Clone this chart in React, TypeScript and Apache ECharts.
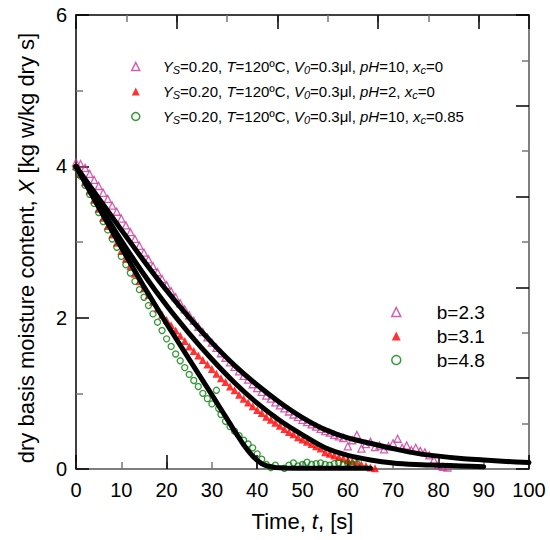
import React, { useEffect, useRef } from 'react';
import * as echarts from 'echarts';

const FONT = 'Liberation Sans, Arial, Helvetica, sans-serif';

// Data series: pH=10, xc=0 (magenta open triangles)
const magentaT = [0,1,2,3,4,5,6,7,8,9,10,11,12,13,14,15,16,17,18,19,20,21,22,23,24,25,26,27,28,29,30,31,32,33,34,35,36,37,38,39,40,41,42,43,44,45,46,47,48,49,50,51,52,53,54,55,56,57,58,59,60,61,62,63,64,65,66,67,68,69,70,71,72,73,74,75,76,77,78,79,80,81,82];
const magentaX = [4.05,4.03,3.98,3.90,3.82,3.74,3.65,3.57,3.48,3.40,3.31,3.22,3.13,3.04,2.95,2.86,2.77,2.68,2.60,2.51,2.43,2.35,2.27,2.19,2.11,2.03,1.96,1.88,1.81,1.74,1.67,1.60,1.53,1.47,1.41,1.35,1.29,1.23,1.18,1.12,1.07,1.02,0.97,0.93,0.88,0.84,0.80,0.76,0.72,0.69,0.65,0.62,0.59,0.56,0.53,0.50,0.48,0.45,0.43,0.41,0.30,0.38,0.45,0.27,0.33,0.36,0.29,0.31,0.26,0.30,0.34,0.40,0.28,0.31,0.25,0.28,0.24,0.22,0.18,0.12,0.05,0.03,0.02];

// Data series: pH=2, xc=0 (red filled triangles)
const redT = [0,1,2,3,4,5,6,7,8,9,10,11,12,13,14,15,16,17,18,19,20,21,22,23,24,25,26,27,28,29,30,31,32,33,34,35,36,37,38,39,40,41,42,43,44,45,46,47,48,49,50,51,52,53,54,55,56,57,58,59,60,61,62,63,64,65,66];
const redX = [4.00,3.90,3.79,3.68,3.56,3.44,3.32,3.21,3.10,2.99,2.88,2.78,2.68,2.58,2.48,2.39,2.30,2.21,2.12,2.04,1.97,1.90,1.83,1.76,1.69,1.62,1.56,1.50,1.44,1.38,1.32,1.26,1.20,1.15,1.09,1.04,0.98,0.93,0.88,0.83,0.78,0.74,0.69,0.65,0.61,0.57,0.53,0.49,0.46,0.42,0.39,0.36,0.33,0.30,0.27,0.22,0.20,0.18,0.16,0.14,0.12,0.10,0.08,0.06,0.04,0.02,0.01];

// Data series: pH=10, xc=0.85 (green open circles)
const greenT = [0,1,2,3,4,5,6,7,8,9,10,11,12,13,14,15,16,17,18,19,20,21,22,23,24,25,26,27,28,29,30,31,31.5,32,33,34,35,36,37,38,39,40,41,42,43,44,46,47,48,49,50,51,52,53,54,55,56,57,58,59,60,61,62];
const greenX = [3.98,3.87,3.75,3.63,3.51,3.39,3.27,3.16,3.04,2.93,2.81,2.70,2.59,2.48,2.37,2.27,2.16,2.05,1.94,1.83,1.72,1.62,1.52,1.43,1.34,1.25,1.17,1.09,1.00,0.93,0.86,1.04,0.80,0.72,0.63,0.56,0.50,0.44,0.38,0.33,0.28,0.20,0.13,0.06,0.02,0.05,0.01,0.05,0.08,0.04,0.06,0.09,0.06,0.07,0.08,0.06,0.05,0.07,0.08,0.06,0.07,0.06,0.07];

// Model fits (black curves)
const fitUpperT = [0,5,10,15,20,25,30,35,40,45,50,55,60,65,70,75,80,85,90,95,100];
const fitUpperX = [4.00,3.58,3.16,2.75,2.36,2.00,1.67,1.37,1.11,0.88,0.68,0.52,0.41,0.34,0.27,0.21,0.17,0.14,0.12,0.10,0.085];
const fitMiddleT = [0,5,10,15,20,25,30,35,40,45,50,55,60,65,70,75,80,85,90];
const fitMiddleX = [4.00,3.50,3.02,2.57,2.16,1.79,1.45,1.14,0.87,0.64,0.45,0.28,0.18,0.12,0.08,0.06,0.05,0.04,0.03];
const fitLowerT = [0,5,10,15,20,25,30,32,34,35,36,37,38,39,40,41,42,43,44,46,48,50,55,60,65];
const fitLowerX = [4.00,3.46,2.93,2.41,1.92,1.45,0.98,0.79,0.60,0.50,0.41,0.32,0.24,0.17,0.115,0.07,0.045,0.03,0.02,0.013,0.01,0.01,0.01,0.01,0.01];

const bValues = ['b=2.3', 'b=3.1', 'b=4.8'];
const seriesNames = ['pH10', 'pH2', 'xc085'];
const legendLines = [
  '{i|Y}{s|S}{n|=0.20, }{i|T}{n|=120ºC, }{i|V}{s|0}{n|=0.3μl, }{i|pH}{n|=10, }{i|x}{s|c}{n|=0}',
  '{i|Y}{s|S}{n|=0.20, }{i|T}{n|=120ºC, }{i|V}{s|0}{n|=0.3μl, }{i|pH}{n|=2, }{i|x}{s|c}{n|=0}',
  '{i|Y}{s|S}{n|=0.20, }{i|T}{n|=120ºC, }{i|V}{s|0}{n|=0.3μl, }{i|pH}{n|=10, }{i|x}{s|c}{n|=0.85}',
];

const MAGENTA = '#cc3399';
const RED = '#ff0000';
const GREEN = '#008000';

const pairs = (t: number[], x: number[]) => t.map((v, i) => [v, x[i]]);

export default function App() {
  const ref = useRef<HTMLDivElement>(null);
  useEffect(() => {
    document.body.style.margin = '0';
    const chart = echarts.init(ref.current!, null, { renderer: 'svg' });

    const legendItems = () => [
      { name: seriesNames[0], icon: 'triangle', itemStyle: { color: 'rgba(0,0,0,0)', borderColor: MAGENTA, borderWidth: 1.5 } },
      { name: seriesNames[1], icon: 'triangle', itemStyle: { color: RED, borderWidth: 0 } },
      { name: seriesNames[2], icon: 'circle', itemStyle: { color: 'rgba(0,0,0,0)', borderColor: GREEN, borderWidth: 1.5 } },
    ];

    const subRich = {
      n: { fontSize: 15, fontFamily: FONT, color: '#000', lineHeight: 17 },
      i: { fontSize: 15, fontFamily: FONT, color: '#000', fontStyle: 'italic', lineHeight: 17 },
      s: { fontSize: 11, fontFamily: FONT, color: '#000', fontStyle: 'italic', lineHeight: 9, verticalAlign: 'bottom' },
    };

    const titleRich = {
      n: { fontSize: 22, fontFamily: FONT, color: '#000' },
      i: { fontSize: 22, fontFamily: FONT, color: '#000', fontStyle: 'italic' },
    };

    const option: any = {
      animation: false,
      backgroundColor: '#fff',
      grid: { left: 76, right: 21, top: 15, bottom: 71, containLabel: false },
      legend: [
        {
          orient: 'vertical',
          left: 126,
          top: 53,
          itemWidth: 8,
          itemHeight: 8,
          itemGap: 8,
          selectedMode: false,
          data: legendItems(),
          formatter: (name: string) => legendLines[seriesNames.indexOf(name)],
          textStyle: { fontSize: 15, fontFamily: FONT, lineHeight: 17, padding: [0, 0, 0, 18], rich: subRich },
        },
        {
          orient: 'vertical',
          left: 386,
          top: 297,
          itemWidth: 9,
          itemHeight: 9,
          itemGap: 4,
          selectedMode: false,
          data: legendItems(),
          formatter: (name: string) => bValues[seriesNames.indexOf(name)],
          textStyle: { fontSize: 19, fontFamily: FONT, color: '#000', lineHeight: 20, padding: [0, 0, 0, 31] },
        },
      ],
      xAxis: [
        {
          type: 'value', position: 'bottom', min: 0, max: 100, interval: 10,
          axisLine: { show: true, onZero: false, lineStyle: { color: '#555', width: 1.5 } },
          axisTick: { show: true, inside: true, length: 7, lineStyle: { color: '#777', width: 1.5 } },
          axisLabel: { fontSize: 20, color: '#000', fontFamily: FONT, margin: 11 },
          splitLine: { show: false },
          name: '{n|Time, }{i|t}{n|, [s]}',
          nameLocation: 'middle',
          nameGap: 41,
          nameTextStyle: { rich: titleRich },
        },
        {
          type: 'value', position: 'bottom', min: 0, max: 100, interval: 20,
          axisLine: { show: false, onZero: false },
          axisTick: { show: true, inside: true, length: 14, lineStyle: { color: '#000', width: 1.5 } },
          axisLabel: { show: false },
          splitLine: { show: false },
        },
        {
          type: 'value', position: 'top', min: 0, max: 9, interval: 1,
          axisLine: { show: true, onZero: false, lineStyle: { color: '#000', width: 1.5 } },
          axisTick: { show: true, inside: true, length: 7, lineStyle: { color: '#777', width: 1.5 } },
          axisLabel: { show: false },
          splitLine: { show: false },
        },
        {
          type: 'value', position: 'top', min: 0, max: 9, interval: 2,
          axisLine: { show: false, onZero: false },
          axisTick: { show: true, inside: true, length: 14, lineStyle: { color: '#000', width: 1.5 } },
          axisLabel: { show: false },
          splitLine: { show: false },
        },
      ],
      yAxis: [
        {
          type: 'value', position: 'left', min: 0, max: 6, interval: 2,
          axisLine: { show: true, onZero: false, lineStyle: { color: '#000', width: 1.5 } },
          axisTick: { show: true, inside: true, length: 13, lineStyle: { color: '#000', width: 1.5 } },
          minorTick: { show: true, splitNumber: 2, length: 7, lineStyle: { color: '#777', width: 1.5 } },
          axisLabel: { fontSize: 20, color: '#000', fontFamily: FONT, margin: 9 },
          splitLine: { show: false },
          minorSplitLine: { show: false },
          name: '{n|dry basis moisture content, }{i|X}{n| [kg w/kg dry s]}',
          nameLocation: 'middle',
          nameGap: 39,
          nameTextStyle: { rich: titleRich, padding: [0, 12, 0, 0] },
        },
        {
          type: 'value', position: 'right', min: 0, max: 10, interval: 2,
          axisLine: { show: true, onZero: false, lineStyle: { color: '#555', width: 1.5 } },
          axisTick: { show: true, inside: true, length: 13, lineStyle: { color: '#000', width: 1.5 } },
          minorTick: { show: true, splitNumber: 2, length: 7, lineStyle: { color: '#777', width: 1.5 } },
          axisLabel: { show: false },
          splitLine: { show: false },
          minorSplitLine: { show: false },
        },
      ],
      series: [
        {
          name: seriesNames[0], type: 'scatter', xAxisIndex: 0, yAxisIndex: 0, z: 2,
          symbol: 'triangle', symbolSize: 7,
          itemStyle: { color: 'rgba(0,0,0,0)', borderColor: MAGENTA, borderWidth: 1.3 },
          data: pairs(magentaT, magentaX),
        },
        {
          name: seriesNames[1], type: 'scatter', xAxisIndex: 0, yAxisIndex: 0, z: 2,
          symbol: 'triangle', symbolSize: 8,
          itemStyle: { color: RED },
          data: pairs(redT, redX),
        },
        {
          name: seriesNames[2], type: 'scatter', xAxisIndex: 0, yAxisIndex: 0, z: 2,
          symbol: 'circle', symbolSize: 6,
          itemStyle: { color: 'rgba(0,0,0,0)', borderColor: GREEN, borderWidth: 1.3 },
          data: pairs(greenT, greenX),
        },
        ...[
          [fitUpperT, fitUpperX, 0.3],
          [fitMiddleT, fitMiddleX, 0.3],
          [fitLowerT, fitLowerX, false],
        ].map(([t, x, sm], k) => ({
          name: 'fit' + k, type: 'line', xAxisIndex: 0, yAxisIndex: 0, z: 3,
          showSymbol: false, symbol: 'none', smooth: sm,
          lineStyle: { color: '#000', width: 5, cap: 'round', join: 'round' },
          data: pairs(t as number[], x as number[]),
        })),
      ],
    };

    chart.setOption(option);
    return () => chart.dispose();
  }, []);
  return <div ref={ref} style={{ width: 550, height: 540 }} />;
}
